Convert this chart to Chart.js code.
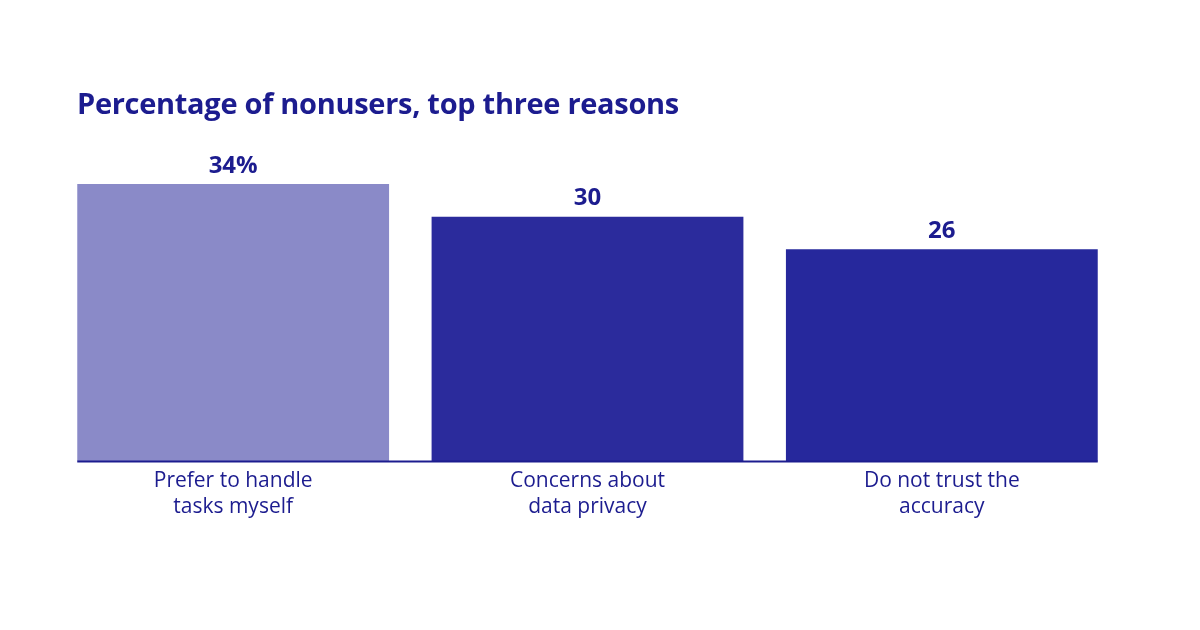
<!DOCTYPE html>
<html>
<head>
<meta charset="utf-8">
<script src="https://cdn.jsdelivr.net/npm/chart.js@4"></script>
<style>
  html, body { margin: 0; background: #fff; }
  #wrap { position: relative; width: 1200px; height: 630px; }
  #title { position: absolute; left: 77px; top: 83px; font: bold 29px "Open Sans", sans-serif; color: #1c1c8f; letter-spacing: -0.3px; }
</style>
</head>
<body>
<div id="wrap">
  <div id="title">Percentage of nonusers, top three reasons</div>
  <canvas id="c" width="1200" height="630"></canvas>
</div>
<script>
const categories = [['Prefer to handle', 'tasks myself'], ['Concerns about', 'data privacy'], ['Do not trust the', 'accuracy']];
const values = [34, 30, 26];
const valueLabels = ['34%', '30', '26'];
const barColors = ['#8a8ac8', '#2b2b9c', '#26289c'];

// value labels above bars + baseline spanning the bars only
const topLabels = {
  id: 'topLabels',
  afterDatasetsDraw(chart) {
    const ctx = chart.ctx;
    const bars = chart.getDatasetMeta(0).data;
    ctx.save();
    ctx.font = 'bold 24px "Open Sans", sans-serif';
    ctx.fillStyle = '#1c1c8f';
    ctx.textAlign = 'center';
    ctx.textBaseline = 'bottom';
    bars.forEach((bar, i) => ctx.fillText(valueLabels[i], bar.x, bar.y - 6));
    const first = bars[0], last = bars[bars.length - 1];
    ctx.strokeStyle = '#1c1c8f';
    ctx.lineWidth = 2;
    ctx.beginPath();
    ctx.moveTo(first.x - first.width / 2, chart.chartArea.bottom);
    ctx.lineTo(last.x + last.width / 2, chart.chartArea.bottom);
    ctx.stroke();
    ctx.restore();
  }
};

new Chart(document.getElementById('c'), {
  type: 'bar',
  data: {
    labels: categories,
    datasets: [{ data: values, backgroundColor: barColors, barPercentage: 0.88, categoryPercentage: 1 }]
  },
  options: {
    responsive: false,
    animation: false,
    layout: { padding: { left: 56, right: 81, top: 135, bottom: 104 } },
    plugins: { legend: { display: false }, tooltip: { enabled: false } },
    scales: {
      y: { display: false, min: 0, max: 40 },
      x: {
        grid: { display: false, drawTicks: false },
        border: { display: false },
        ticks: { color: '#1c1c8f', font: { size: 21, family: '"Open Sans", sans-serif', lineHeight: 1.25 }, padding: 6 }
      }
    }
  },
  plugins: [topLabels]
});
</script>
</body>
</html>
